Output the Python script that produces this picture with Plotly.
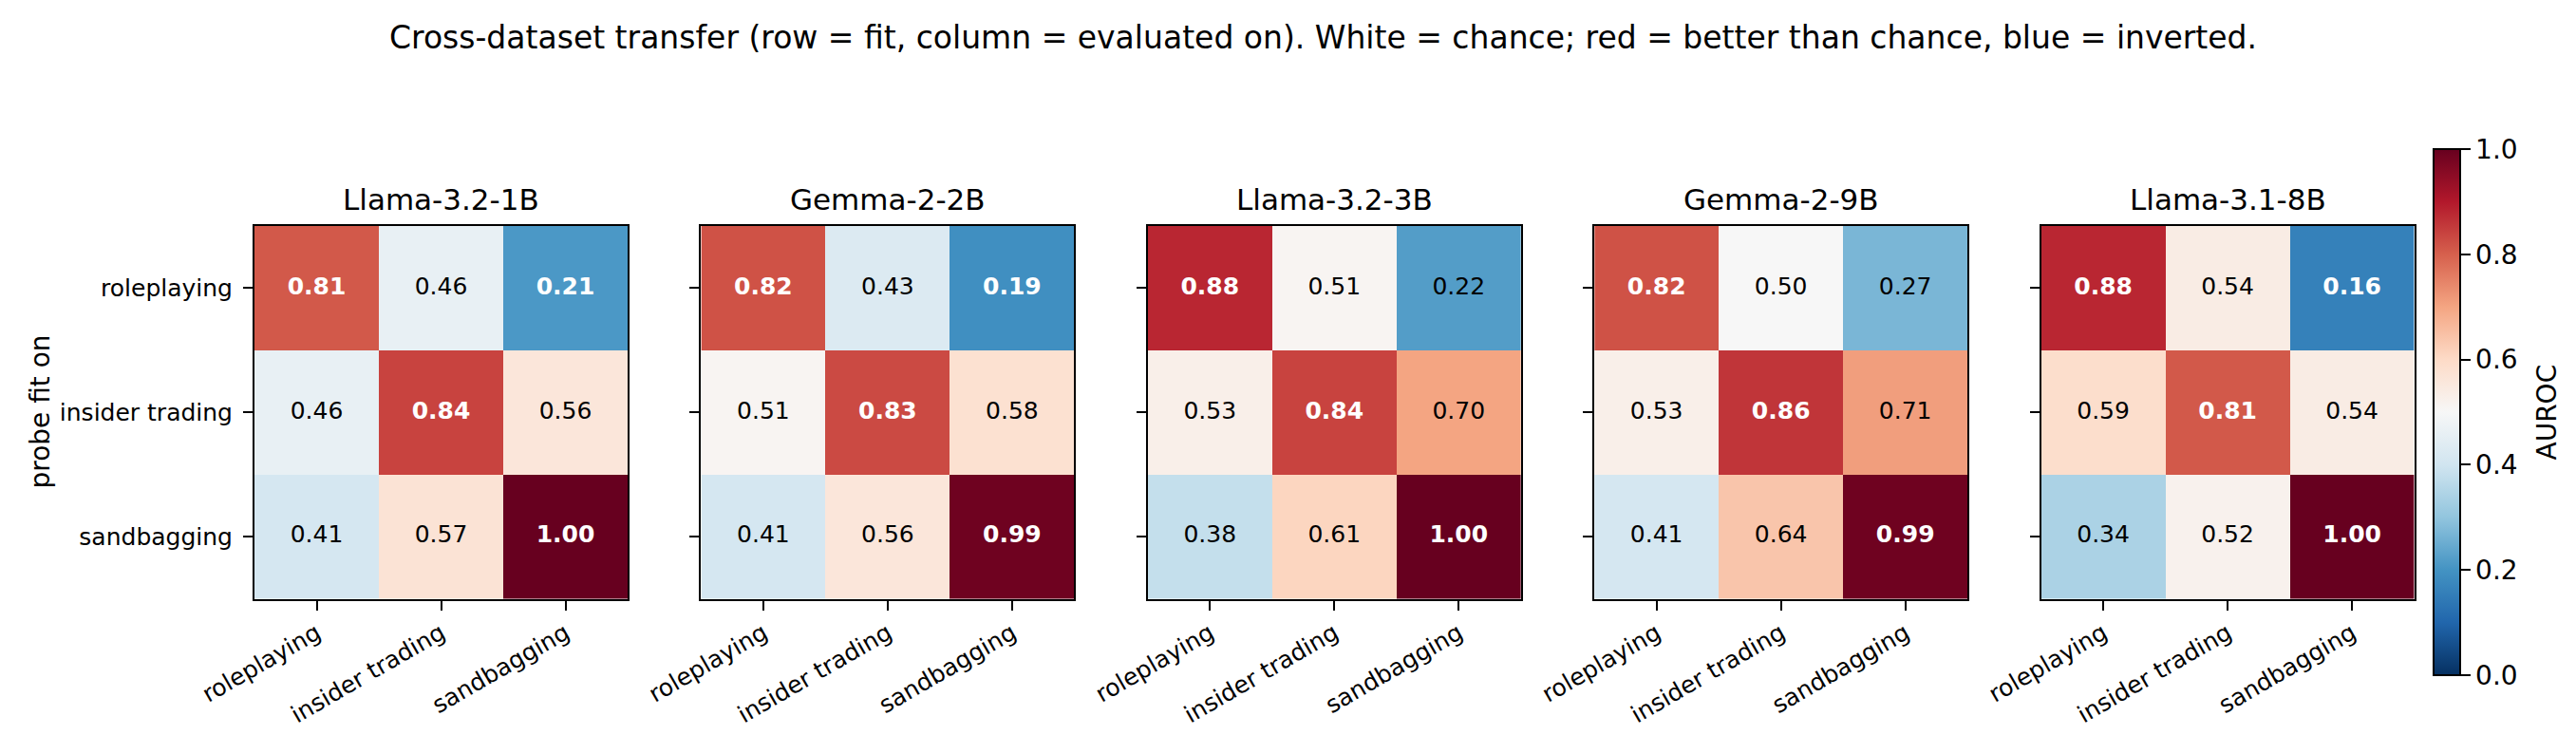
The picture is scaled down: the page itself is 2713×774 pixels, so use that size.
import plotly.graph_objects as go

# data
models = ['Llama-3.2-1B', 'Gemma-2-2B', 'Llama-3.2-3B', 'Gemma-2-9B', 'Llama-3.1-8B']
datasets = ['roleplaying', 'insider trading', 'sandbagging']

llama_1b = [[0.81, 0.46, 0.21], [0.46, 0.84, 0.56], [0.41, 0.57, 1.00]]
gemma_2b = [[0.82, 0.43, 0.19], [0.51, 0.83, 0.58], [0.41, 0.56, 0.99]]
llama_3b = [[0.88, 0.51, 0.22], [0.53, 0.84, 0.70], [0.38, 0.61, 1.00]]
gemma_9b = [[0.82, 0.50, 0.27], [0.53, 0.86, 0.71], [0.41, 0.64, 0.99]]
llama_8b = [[0.88, 0.54, 0.16], [0.59, 0.81, 0.54], [0.34, 0.52, 1.00]]

cbar_ticks = [0.0, 0.2, 0.4, 0.6, 0.8, 1.0]

matrices = [llama_1b, gemma_2b, llama_3b, gemma_9b, llama_8b]

# matplotlib RdBu_r
rdbu_r = [
    [0.0, '#053061'], [0.1, '#2166ac'], [0.2, '#4393c3'], [0.3, '#92c5de'],
    [0.4, '#d1e5f0'], [0.5, '#f7f7f7'], [0.6, '#fddbc7'], [0.7, '#f4a582'],
    [0.8, '#d6604d'], [0.9, '#b2182b'], [1.0, '#67001f'],
]

W, H = 2713, 774
FONT = 'DejaVu Sans'

fig = go.Figure()

ytop, ybot = 230, 622.5
panel_w = 393
lefts = [260 + 470.4 * i for i in range(5)]

for i, (name, z) in enumerate(zip(models, matrices)):
    n = '' if i == 0 else str(i + 1)
    fig.add_trace(go.Heatmap(
        z=z, x=datasets, y=datasets, zmin=0, zmax=1,
        colorscale=rdbu_r, showscale=(i == 0),
        xaxis='x' + n, yaxis='y' + n, hoverinfo='skip',
        colorbar=dict(
            x=2555 / W, xanchor='left', xpad=0,
            y=(H - 426) / H, yanchor='middle', ypad=0,
            len=554, lenmode='pixels', thickness=28,
            outlinecolor='black', outlinewidth=2,
            tickvals=cbar_ticks, tickformat='.1f',
            ticks='outside', ticklen=10, tickwidth=2, tickcolor='black',
            tickfont=dict(family=FONT, size=28, color='black'),
        ),
    ))

    xs, ys, txt, cols = [], [], [], []
    for r, row in enumerate(z):
        for c, v in enumerate(row):
            xs.append(datasets[c])
            ys.append(datasets[r])
            strong = abs(v - 0.5) > 0.285
            txt.append('<b>%.2f</b>' % v if strong else '%.2f' % v)
            cols.append('white' if strong else 'black')
    fig.add_trace(go.Scatter(
        x=xs, y=ys, text=txt, mode='text', textposition='middle center',
        textfont=dict(family=FONT, size=25, color=cols),
        xaxis='x' + n, yaxis='y' + n, showlegend=False, hoverinfo='skip',
    ))

    x0 = lefts[i] / W
    x1 = (lefts[i] + panel_w) / W
    axis_common = dict(
        showline=True, mirror=True, linecolor='black', linewidth=2,
        ticks='outside', ticklen=10, tickwidth=2, tickcolor='black',
        showgrid=False, zeroline=False, fixedrange=True, automargin=False,
        tickfont=dict(family=FONT, size=25, color='black'),
    )
    fig.update_layout({
        'xaxis' + n: dict(domain=[x0, x1], anchor='y' + n, tickangle=-30,
                          range=[-0.5, 2.5], ticklabelstandoff=0, **axis_common),
        'yaxis' + n: dict(domain=[(H - ybot) / H, (H - ytop) / H], anchor='x' + n,
                          range=[2.5, -0.5], showticklabels=(i == 0),
                          ticklabelstandoff=6, **axis_common),
    })
    fig.add_annotation(
        text=name, xref='paper', yref='paper', x=(x0 + x1) / 2, y=(H - ytop) / H,
        xanchor='center', yanchor='bottom', yshift=8, showarrow=False,
        font=dict(family=FONT, size=31, color='black'),
    )

fig.add_annotation(
    text='probe fit on', xref='paper', yref='paper', x=33.5 / W, y=(H - 426) / H,
    xanchor='center', yanchor='middle', textangle=-90, showarrow=False,
    font=dict(family=FONT, size=28, color='black'),
)
fig.add_annotation(
    text='AUROC', xref='paper', yref='paper', x=2674 / W, y=(H - 426.5) / H,
    xanchor='center', yanchor='middle', textangle=-90, showarrow=False,
    font=dict(family=FONT, size=28, color='black'),
)
fig.add_annotation(
    text='Cross-dataset transfer (row = fit, column = evaluated on). White = chance; '
         'red = better than chance, blue = inverted.',
    xref='paper', yref='paper', x=1386 / W, y=(H - 44) / H,
    xanchor='center', yanchor='bottom', yshift=-9, showarrow=False,
    font=dict(family=FONT, size=33, color='black'),
)

fig.update_layout(
    width=W, height=H, margin=dict(l=0, r=0, t=0, b=0),
    paper_bgcolor='white', plot_bgcolor='white', showlegend=False,
    font=dict(family=FONT, color='black'),
)

fig.write_html('out.html')
